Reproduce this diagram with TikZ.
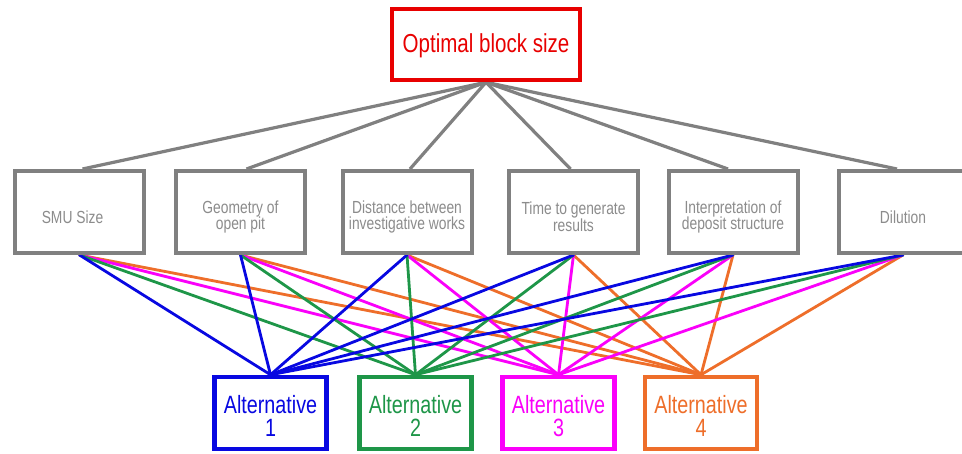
\documentclass[tikz,border=0pt]{standalone}
\usepackage{fontspec}
\newfontfamily\nsf[FakeStretch=0.79]{Liberation Sans}
\definecolor{cred}{RGB}{232,0,0}
\definecolor{cgray}{RGB}{128,128,128}
\definecolor{tgray}{RGB}{140,140,140}
\definecolor{cblue}{RGB}{8,8,225}
\definecolor{cgreen}{RGB}{30,150,72}
\definecolor{cmag}{RGB}{250,0,250}
\definecolor{corange}{RGB}{238,110,42}
\pgfdeclarelayer{bg}
\pgfsetlayers{bg,main}
\tikzset{
  topbox/.style={draw=cred, line width=4.5pt, fill=white, minimum width=188pt, minimum height=71pt, inner sep=0pt,
    label={[text=cred, font=\nsf\fontsize{26}{26}\selectfont, yshift=-1pt]center:#1}},
  midbox/.style={draw=cgray, line width=4pt, fill=white, minimum width=129pt, minimum height=82pt, inner sep=0pt,
    label={[text=tgray, align=center, font=\nsf\fontsize{17.5}{16.8}\selectfont, yshift=-5pt]center:#1}},
  altbox/.style 2 args={draw=#1, line width=4.5pt, fill=white, minimum width=112pt, minimum height=72pt, inner sep=0pt,
    label={[text=#1, align=center, font=\nsf\fontsize{25}{22.7}\selectfont, yshift=-3pt]center:#2}},
  gline/.style={draw=cgray, line width=3.2pt},
  cline/.style={draw=#1, line width=2.8pt, line cap=round},
}
\begin{document}
\begin{tikzpicture}[x=1pt,y=-1pt]
\clip (0,0) rectangle (962,454);
\useasboundingbox (0,0) rectangle (962,454);
% top
\node[topbox={Optimal block size}] (top) at (486,44.5) {};
% middle boxes
\node[midbox={\hspace*{-14pt}SMU Size}] (smu) at (79.5,212) {};
\node[midbox={Geometry of\\open pit}] (geo) at (240.5,212) {};
\node[midbox={Distance between\\investigative works}] (dist) at (407,212) {};
\node[midbox={Time to generate\\results}] (time) at (573.5,212) {};
\node[midbox={Interpretation of\\deposit structure}] (interp) at (733,212) {};
\node[midbox={Dilution}] (dil) at (903,212) {};
% alternatives
\node[altbox={cblue}{Alternative\\1}] (a1) at (270.5,413) {};
\node[altbox={cgreen}{Alternative\\2}] (a2) at (415.5,413) {};
\node[altbox={cmag}{Alternative\\3}] (a3) at (558.5,413) {};
\node[altbox={corange}{Alternative\\4}] (a4) at (701,413) {};
\begin{pgfonlayer}{bg}
\fill[white] (0,0) rectangle (962,454);
% gray connectors
\foreach \m/\dx in {smu/3,geo/6,dist/3,time/-3,interp/-5,dil/-6}{
  \draw[gline] (top.south) -- ([xshift=\dx pt]\m.north);
}
% colored connectors
\foreach \a/\c in {a4/corange,a3/cmag,a2/cgreen,a1/cblue}{
  \foreach \m in {smu,geo,dist,time,interp,dil}{
    \draw[cline=\c] (\m.south) -- (\a.north);
  }
}
\end{pgfonlayer}
\end{tikzpicture}
\end{document}
